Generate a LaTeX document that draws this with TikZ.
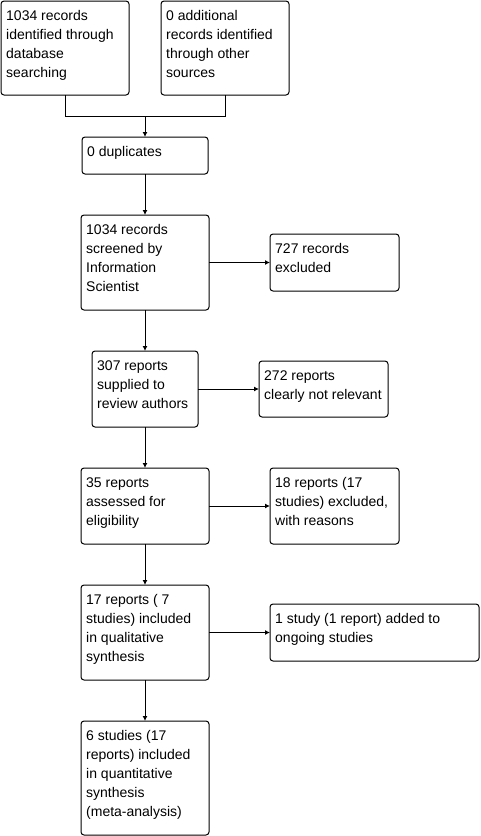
\documentclass[tikz,border=0pt]{standalone}
\usepackage{fontspec}
\setmainfont{Liberation Sans}
\usetikzlibrary{arrows.meta}
\tikzset{
  box/.style={draw, line width=1pt, rounded corners=3pt, outer sep=0pt, inner sep=0pt},
  txt/.style={anchor=north west, inner sep=0pt, align=left, font=\fontsize{14}{19}\selectfont},
  arr/.style={line width=1pt, -{Latex[length=5pt,width=5pt]}},
  ln/.style={line width=1pt}
}
\newcommand{\bxnode}[6]{%
  \node[box, minimum width={(#4)-(#2)}, minimum height={(#5)-(#3)}] (#1) at ({((#2)+(#4))/2},{((#3)+(#5))/2}) {};
  \node[txt] (#1t) at ([shift={(5pt,-5.5pt)}]#1.north west) {\rule{0pt}{14pt}#6};
}
\begin{document}
\begin{tikzpicture}[x=1pt,y=-1pt]
\useasboundingbox (0,0) rectangle (481,836);
\bxnode{A}{1}{1}{129}{95}{1034 records\\identified through\\database\\searching}
\bxnode{B}{161}{1}{289}{95}{0 additional\\records identified\\through other\\sources}
\bxnode{C}{82}{137}{208}{174}{0 duplicates}
\bxnode{D}{81}{215}{209}{310}{1034 records\\screened by\\Information\\Scientist}
\bxnode{E}{270}{234}{399}{291}{727 records\\excluded}
\bxnode{F}{92}{351}{198}{427}{307 reports\\supplied to\\review authors}
\bxnode{G}{259}{361}{388}{417}{272 reports\\clearly not relevant}
\bxnode{H}{81}{468}{209}{544}{35 reports\\assessed for\\eligibility}
\bxnode{I}{270}{468}{399}{544}{18 reports (17\\studies) excluded,\\with reasons}
\bxnode{J}{81}{585}{209}{680}{17 reports ( 7\\studies) included\\in qualitative\\synthesis}
\bxnode{K}{270}{604}{479}{661}{1 study (1 report) added to\\ongoing studies}
\bxnode{L}{81}{721}{209}{835}{6 studies (17\\reports) included\\in quantitative\\synthesis\\(meta-analysis)}
\coordinate (jn) at (145,116);
\draw[ln] (A.south) |- (jn);
\draw[ln] (B.south) |- (jn);
\draw[arr] (jn) -- (C.north);
\draw[arr] (C.south) -- (D.north);
\draw[arr] (D.east) -- (E.west);
\draw[arr] (D.south) -- (F.north);
\draw[arr] (F.east) -- (G.west);
\draw[arr] (F.south) -- (H.north);
\draw[arr] (H.east) -- (I.west);
\draw[arr] (H.south) -- (J.north);
\draw[arr] (J.east) -- (K.west);
\draw[arr] (J.south) -- (L.north);
\end{tikzpicture}
\end{document}
